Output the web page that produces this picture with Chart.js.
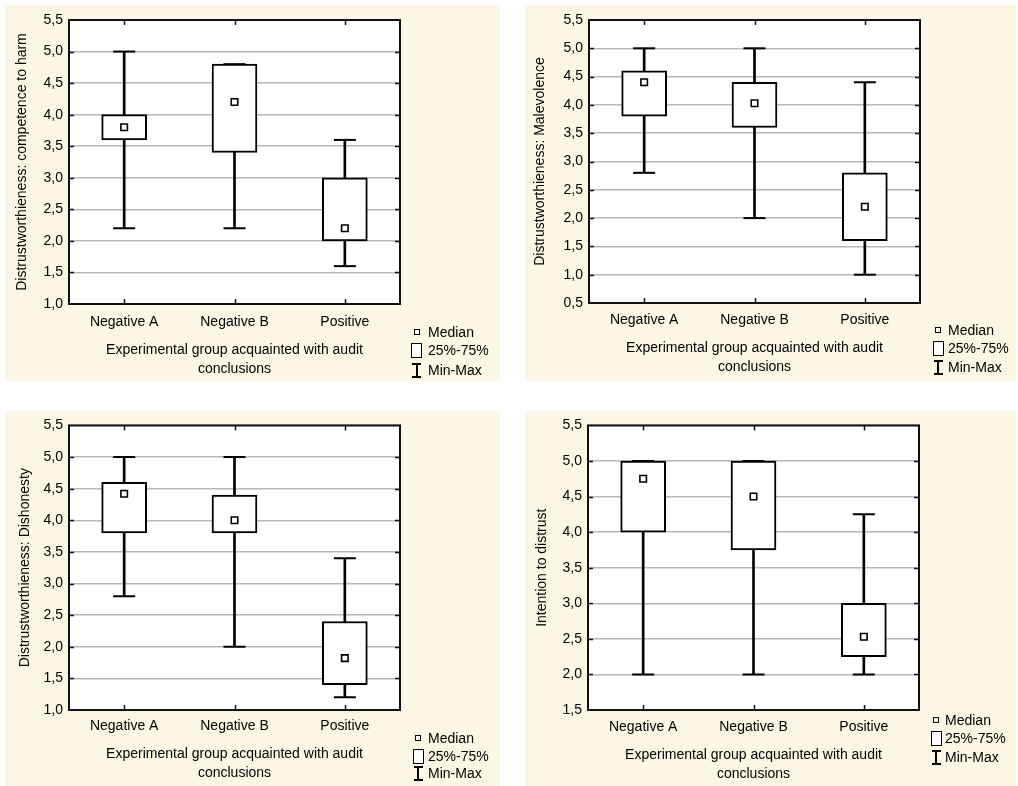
<!DOCTYPE html>
<html>
<head>
<meta charset="utf-8">
<script src="https://cdn.jsdelivr.net/npm/chart.js@4.4.1/dist/chart.umd.min.js"></script>
<style>
    body { margin: 0; background: #fff; width: 1018px; height: 786px; position: relative; overflow: hidden; font-family: "Liberation Sans", Arial, sans-serif; }
    .panel { position: absolute; background: #fcf7e5; }
    .panel canvas { position: absolute; left: 0; top: 0; }
    .lg { position: absolute; font-size: 14px; line-height: 16px; color: #000; white-space: nowrap; }
    .sym { position: absolute; box-sizing: border-box; }
</style>
</head>
<body>

<div class="panel" style="left:5px;top:5px;width:495px;height:376px"><canvas id="compChart" width="495" height="376"></canvas></div>
<div class="panel" style="left:525px;top:5px;width:491px;height:376px"><canvas id="malChart" width="491" height="376"></canvas></div>
<div class="panel" style="left:5px;top:411px;width:495px;height:375px"><canvas id="dishChart" width="495" height="375"></canvas></div>
<div class="panel" style="left:525px;top:411px;width:491px;height:375px"><canvas id="intChart" width="491" height="375"></canvas></div>

<script>
// Groups on the x axis
const groups = ['Negative A', 'Negative B', 'Positive'];
const xTitle = ['Experimental group acquainted with audit', 'conclusions'];

// Distrustworthieness: competence to harm
const compMin = [2.2, 2.2, 1.6];
const compQ1 = [3.6, 3.4, 2.0];
const compMed = [3.8, 4.2, 2.2];
const compQ3 = [4.0, 4.8, 3.0];
const compMax = [5.0, 4.8, 3.6];
const compRange = [1.0, 5.5];

// Distrustworthieness: Malevolence
const malMin = [2.8, 2.0, 1.0];
const malQ1 = [3.8, 3.6, 1.6];
const malMed = [4.4, 4.03, 2.2];
const malQ3 = [4.6, 4.4, 2.8];
const malMax = [5.0, 5.0, 4.4];
const malRange = [0.5, 5.5];

// Distrustworthieness: Dishonesty
const dishMin = [2.8, 2.0, 1.2];
const dishQ1 = [3.8, 3.8, 1.4];
const dishMed = [4.42, 4.0, 1.82];
const dishQ3 = [4.6, 4.4, 2.4];
const dishMax = [5.0, 5.0, 3.4];
const dishRange = [1.0, 5.5];

// Intention to distrust
const intMin = [2.0, 2.0, 2.0];
const intQ1 = [4.0, 3.75, 2.25];
const intMed = [4.75, 4.5, 2.53];
const intQ3 = [5.0, 5.0, 3.0];
const intMax = [5.0, 5.0, 4.25];
const intRange = [1.5, 5.5];

const FONT = '"Liberation Sans", Arial, sans-serif';
Chart.defaults.font.family = FONT;
Chart.defaults.color = '#000';

// white plot area + black frame with inward ticks
const framePlugin = {
    id: 'frame',
    beforeDraw(chart) {
        const { ctx, chartArea: a } = chart;
        ctx.save();
        ctx.fillStyle = '#fff';
        ctx.fillRect(a.left, a.top, a.right - a.left, a.bottom - a.top);
        ctx.restore();
    },
    afterDraw(chart) {
        const { ctx, chartArea: a } = chart;
        const xs = chart.scales.x, ys = chart.scales.y;
        ctx.save();
        ctx.strokeStyle = '#111';
        ctx.lineWidth = 1.5;
        ctx.beginPath();
        ys.ticks.forEach(t => {
            const y = Math.round(ys.getPixelForValue(t.value)) + 0.5;
            if (y <= a.top + 2 || y >= a.bottom - 2) return;
            ctx.moveTo(a.left, y); ctx.lineTo(a.left + 5, y);
            ctx.moveTo(a.right, y); ctx.lineTo(a.right - 5, y);
        });
        xs.ticks.forEach((t, i) => {
            const x = Math.round(xs.getPixelForTick(i)) + 0.5;
            ctx.moveTo(x, a.top); ctx.lineTo(x, a.top + 5);
            ctx.moveTo(x, a.bottom); ctx.lineTo(x, a.bottom - 5);
        });
        ctx.stroke();
        ctx.lineWidth = 2;
        ctx.strokeRect(a.left, a.top, a.right - a.left, a.bottom - a.top);
        ctx.restore();
    }
};

function makeChart(canvasId, yLabel, range, mins, q1s, meds, q3s, maxs, box) {
    const canvas = document.getElementById(canvasId);
    const W = canvas.width, H = canvas.height;
    const halfTitle = 14 * 1.2 / 2;
    const padLeft = box.titleX - halfTitle;
    const yWidth = box.left - padLeft;
    const xHeight = box.titleGap + 19.6 / 2 + 19.6;

    new Chart(canvas, {
        type: 'bar',
        data: {
            labels: groups,
            datasets: [
                {
                    type: 'line',
                    label: 'Median',
                    data: meds,
                    showLine: false,
                    pointStyle: 'rect',
                    pointRadius: 4.6,
                    pointBackgroundColor: '#fff',
                    pointBorderColor: '#000',
                    pointBorderWidth: 1.6,
                    order: 0
                },
                {
                    type: 'bar',
                    label: '25%-75%',
                    data: q1s.map((v, i) => [v, q3s[i]]),
                    backgroundColor: '#fff',
                    borderColor: '#000',
                    borderWidth: 2,
                    borderSkipped: false,
                    barThickness: 45,
                    grouped: false,
                    order: 1
                },
                {
                    type: 'line',
                    label: 'Max',
                    data: maxs,
                    showLine: false,
                    pointStyle: 'line',
                    pointRadius: 11,
                    pointBorderColor: '#000',
                    pointBorderWidth: 2,
                    order: 2
                },
                {
                    type: 'line',
                    label: 'Min',
                    data: mins,
                    showLine: false,
                    pointStyle: 'line',
                    pointRadius: 11,
                    pointBorderColor: '#000',
                    pointBorderWidth: 2,
                    order: 2
                },
                {
                    type: 'bar',
                    label: 'Min-Max',
                    data: mins.map((v, i) => [v, maxs[i]]),
                    backgroundColor: '#000',
                    borderWidth: 0,
                    barThickness: 2,
                    grouped: false,
                    order: 3
                }
            ]
        },
        options: {
            responsive: false,
            animation: false,
            layout: {
                padding: {
                    left: padLeft,
                    top: box.top,
                    right: W - box.right,
                    bottom: H - box.bottom - xHeight
                }
            },
            plugins: {
                legend: { display: false },
                tooltip: { enabled: false }
            },
            scales: {
                x: {
                    grid: { display: false, drawTicks: false },
                    border: { display: false },
                    ticks: { color: '#000', font: { size: 14 }, padding: box.tickGap - 8.4 },
                    title: { display: true, text: xTitle, color: '#000', font: { size: 14, lineHeight: 1.4 }, padding: 0 },
                    afterFit: s => { s.height = xHeight; }
                },
                y: {
                    min: range[0],
                    max: range[1],
                    grid: { color: '#b8b8b8', lineWidth: 1.5, drawTicks: false },
                    border: { display: false },
                    ticks: {
                        stepSize: 0.5,
                        color: '#000',
                        font: { size: 14 },
                        padding: 6,
                        callback: v => v.toFixed(1).replace('.', ',')
                    },
                    title: { display: true, text: yLabel, color: '#000', font: { size: 14 }, padding: 0 },
                    afterFit: s => { s.width = yWidth; }
                }
            }
        },
        plugins: [framePlugin]
    });
}

// Legend drawn as plain HTML next to each plot
function addLegend(cx, textX, rows) {
    const body = document.body;
    function el(cls, css, text) {
        const d = document.createElement('div');
        d.className = cls;
        d.style.cssText = css;
        if (text) d.textContent = text;
        body.appendChild(d);
    }
    el('sym', `left:${cx - 3}px;top:${rows[0] - 3}px;width:6px;height:6px;border:1.6px solid #000;background:#fff`);
    el('sym', `left:${cx - 5.5}px;top:${rows[1] - 7.5}px;width:11px;height:15px;border:1.5px solid #000;background:#fff`);
    el('sym', `left:${cx - 4.5}px;top:${rows[2] - 7}px;width:9px;height:2px;background:#000`);
    el('sym', `left:${cx - 4.5}px;top:${rows[2] + 6}px;width:9px;height:2px;background:#000`);
    el('sym', `left:${cx - 1}px;top:${rows[2] - 7}px;width:2px;height:15px;background:#000`);
    el('lg', `left:${textX}px;top:${rows[0] - 8}px`, 'Median');
    el('lg', `left:${textX}px;top:${rows[1] - 8}px`, '25%-75%');
    el('lg', `left:${textX}px;top:${rows[2] - 8}px`, 'Min-Max');
}

makeChart('compChart', 'Distrustworthieness: competence to harm', compRange,
    compMin, compQ1, compMed, compQ3, compMax,
    { left: 64, top: 15, right: 395, bottom: 299, titleX: 17, tickGap: 18, titleGap: 46 });
makeChart('malChart', 'Distrustworthieness: Malevolence', malRange,
    malMin, malQ1, malMed, malQ3, malMax,
    { left: 64, top: 15, right: 395, bottom: 298, titleX: 15, tickGap: 17, titleGap: 45 });
makeChart('dishChart', 'Distrustworthieness: Dishonesty', dishRange,
    dishMin, dishQ1, dishMed, dishQ3, dishMax,
    { left: 64, top: 14, right: 395, bottom: 299, titleX: 20, tickGap: 16, titleGap: 44 });
makeChart('intChart', 'Intention to distrust', intRange,
    intMin, intQ1, intMed, intQ3, intMax,
    { left: 63, top: 14, right: 394, bottom: 299, titleX: 17, tickGap: 17, titleGap: 45 });

addLegend(416.5, 428, [332, 350, 370]);
addLegend(938, 948, [330, 348, 367]);
addLegend(418, 428, [738, 756, 773]);
addLegend(936, 945, [720, 738, 757]);
</script>
</body>
</html>
